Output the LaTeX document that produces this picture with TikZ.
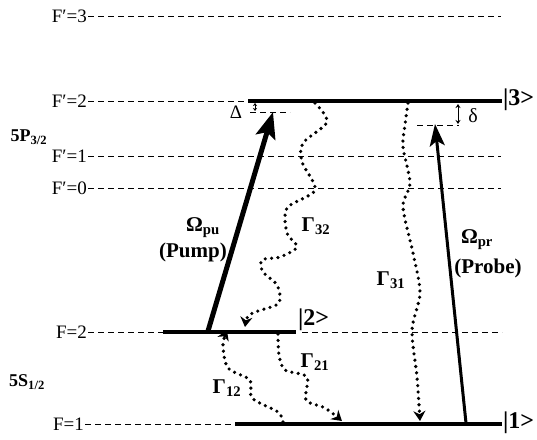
\documentclass[tikz,border=0pt]{standalone}
\usepackage{fontspec}
\setmainfont{Liberation Serif}
\usetikzlibrary{arrows.meta,positioning,calc}
\tikzset{
	x=1pt, y=-1pt,
	level/.style={line width=4pt}, % the thick line of a state
	hyper/.style={line width=0.9pt, dash pattern=on 6pt off 4pt}, % the dashed hyperfine levels
	decay/.style={line width=3.6pt, line cap=round, dash pattern=on 0pt off 6.4pt, -{Stealth[length=10pt,width=12pt]}},
	lbl/.style={font=\fontsize{19}{21}\selectfont, inner sep=1pt},
	blbl/.style={font=\fontsize{21}{24}\selectfont\bfseries, inner sep=1pt},
	ket/.style={font=\fontsize{24}{26}\selectfont\bfseries, inner sep=1pt}
}
\newcommand{\sbs}[1]{\textsubscript{#1}}

\begin{document}
\begin{tikzpicture}
	\useasboundingbox (0,0) rectangle (537,439);
	\tikzset{laser/.style={-{Stealth[length=26pt,width=20pt,inset=5pt]}}}
	% hyperfine levels
	\node[lbl, anchor=east] (fp3) at (88,16) {F′=3};
	\node[lbl, anchor=east] (fp2) at (88,101) {F′=2};
	\node[lbl, anchor=east] (fp1) at (88,156) {F′=1};
	\node[lbl, anchor=east] (fp0) at (88,188) {F′=0};
	\node[lbl, anchor=east] (f2) at (88,332) {F=2};
	\node[lbl, anchor=east] (f1) at (85,424) {F=1};
	\node[blbl, font=\fontsize{18}{20}\selectfont\bfseries] (p32) at (29,137) {5P\sbs{3/2}};
	\node[blbl, font=\fontsize{18}{20}\selectfont\bfseries] (s12) at (27,382) {5S\sbs{1/2}};
	\coordinate (fp3r) at (501,16);
	\coordinate (fp1r) at (501,156);
	\coordinate (fp0r) at (501,188);
	\coordinate (fp2r) at (248,101);
	\coordinate (f2m) at (163,332);
	\coordinate (f2r) at (502,332);
	\coordinate (f1m) at (235,424);
	\draw[hyper] (fp3) -- (fp3r);
	\draw[hyper] (fp2) -- (fp2r);
	\draw[hyper] (fp1) -- (fp1r);
	\draw[hyper] (fp0) -- (fp0r);
	\draw[hyper] (f2) -- (f2m);
	\draw[hyper] (f1) -- (f1m);
	% states
	\node[ket, anchor=west] (k3) at (502,100) {|3>};
	\node[ket, anchor=west] (k2) at (297,320) {|2>};
	\node[ket, anchor=west] (k1) at (502,423) {|1>};
	\coordinate (k2l) at (296,332);
	\coordinate (k2d) at (302,332);
	\draw[level] (fp2r) -- (k3.west |- fp2r);
	\draw[level] (f2m) -- (k2l);
	\draw[hyper] (k2d) -- (f2r);
	\draw[level] (f1m) -- (k1.west |- f1m);
	% detunings
	\coordinate (dpu) at (250,112);
	\coordinate (dpr) at (417,125);
	\draw[hyper] (dpu) -- ++(40,0);
	\draw[hyper] (dpr) -- ++(42,0);
	\draw[{Stealth[length=3pt,width=4pt]}-{Stealth[length=3pt,width=4pt]}, line width=0.8pt] (255,103) -- (255,111);
	\draw[{Stealth[length=4pt,width=5pt]}-{Stealth[length=4pt,width=5pt]}, line width=0.8pt] (458,104) -- (458,124);
	\node[lbl] (dl) at (236,112) {Δ};
	\node[lbl, font=\fontsize{20}{22}\selectfont] (dd) at (473,116) {δ};
	% lasers
	\coordinate (pu0) at (208,331);
	\coordinate (pu1) at (273,112);
	\coordinate (pr0) at (466,423);
	\coordinate (pr1) at (435,124);
	\draw[laser, line width=5pt] (pu0) -- (pu1);
	\draw[laser, line width=3pt, -{Stealth[length=22pt,width=15pt,inset=5pt]}] (pr0) -- (pr1);
	\node[blbl] (opu) at (203,228) {Ω\sbs{pu}};
	\node[blbl] (pump) at (193,252) {(Pump)};
	\node[blbl] (opr) at (477,240) {Ω\sbs{pr}};
	\node[blbl] (probe) at (488,268) {(Probe)};
	% decays
	\draw[decay] plot[smooth] coordinates {(315,103) (327,122) (303,143) (302,162) (315,190) (287,208) (287,233) (297,247) (280,257) (262,260) (263,272) (277,285) (279,303) (258,311) (248,316) (245,327)};
	\draw[decay] plot[smooth] coordinates {(408,103) (405,125) (403,147) (410,183) (403,207) (413,253) (420,293) (412,330) (417,377) (420,421)};
	\draw[decay] plot[smooth] coordinates {(278,334) (279,355) (285,370) (307,377) (306,400) (325,408) (342,421)};
	\draw[decay] plot[smooth] coordinates {(283,422) (278,412) (252,398) (250,380) (228,368) (223,345) (227,330)};
	\node[blbl] (g32) at (316,226) {Γ\sbs{32}};
	\node[blbl] (g31) at (391,280) {Γ\sbs{31}};
	\node[blbl] (g21) at (315,362) {Γ\sbs{21}};
	\node[blbl] (g12) at (227,388) {Γ\sbs{12}};
\end{tikzpicture}
\end{document}
